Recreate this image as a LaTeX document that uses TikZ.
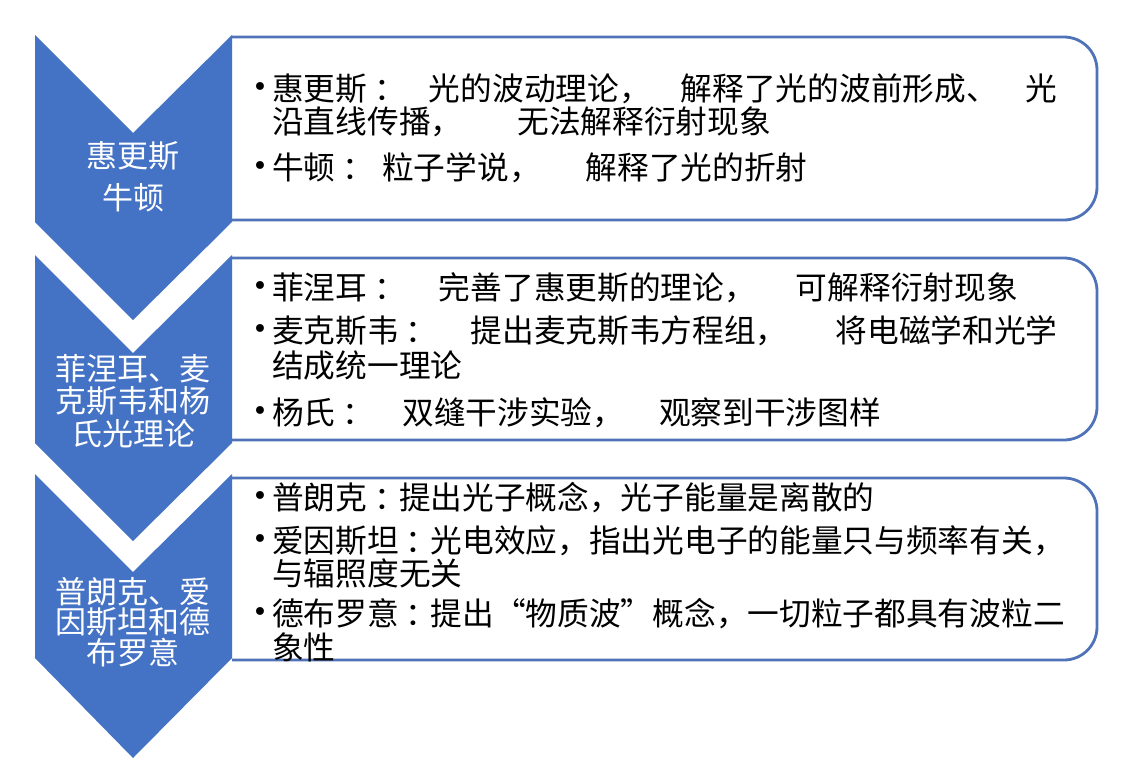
\documentclass[tikz,border=0pt]{standalone}
\usepackage{fontspec}
\newfontfamily\cjk{Noto Sans CJK SC}
\newfontfamily\dejavu{DejaVu Sans}
\definecolor{chevblue}{RGB}{68,114,196}
\definecolor{boxblue}{RGB}{79,114,184}
\newcommand{\gp}[1]{\hspace{#1pt}}
\newcommand{\lqt}{\makebox[1em][r]{“}}
\newcommand{\rqt}{\makebox[1em][l]{”}}
\newcommand{\cln}{\makebox[1em][l]{\hspace{0.22em}：}}
\tikzset{
  chev/.style={fill=chevblue, draw=none},
  infobox/.style={draw=boxblue, line width=2.8pt, rounded corners=33pt},
  line/.style={anchor=west, inner sep=0pt, text height=26.3pt, text depth=2.2pt, font=\cjk\fontsize{31.7}{32}\selectfont, text=black},
  blt/.style={inner sep=0pt, font=\dejavu\fontsize{27}{28}\selectfont, text=black},
  chevtxt/.style={inner sep=0pt, text height=25.7pt, text depth=2.2pt, font=\cjk\fontsize{31}{32}\selectfont, text=white}
}
\begin{document}
\begin{tikzpicture}[x=1pt,y=-1pt]
\useasboundingbox (0,0) rectangle (1135,776);
\fill[white] (0,0) rectangle (1135,776);
% boxes
\draw[infobox] (232,37) -- (1097,37) -- (1097,220) -- (232,220);
\draw[infobox] (232,258) -- (1097,258) -- (1097,440) -- (232,440);
\draw[infobox] (232,478) -- (1097,478) -- (1097,660) -- (232,660);
% chevrons
\fill[chev] (35,35) -- (133,133) -- (232,35) -- (232,222) -- (133,320) -- (35,222) -- cycle;
\fill[chev] (35,255) -- (133,353) -- (232,255) -- (232,443) -- (133,541) -- (35,443) -- cycle;
\fill[chev] (35,474) -- (133,572) -- (232,474) -- (232,658) -- (133,758) -- (35,658) -- cycle;
% chevron labels
\node[chevtxt] (c1a) at (133,156) {惠更斯};
\node[chevtxt] (c1b) at (133,198) {牛顿};
\node[chevtxt] (c2a) at (133,369) {菲涅耳、麦};
\node[chevtxt] (c2b) at (133,401) {克斯韦和杨};
\node[chevtxt] (c2c) at (133,434) {氏光理论};
\node[chevtxt] (c3a) at (133,592) {普朗克、爱};
\node[chevtxt] (c3b) at (133,622) {因斯坦和德};
\node[chevtxt] (c3c) at (133,653) {布罗意};
% box 1
\node[blt] (d11) at (260,90) {•};
\node[line] (t11) at (272,88) {惠更斯\cln\gp{30}光的波动理论，\gp{30}解释了光的波前形成、\gp{28}光};
\node[line] (t12) at (272,121) {沿直线传播，\gp{55}无法解释衍射现象};
\node[blt] (d12) at (260,169) {•};
\node[line] (t13) at (272,167) {牛顿\cln\gp{15}粒子学说，\gp{45}解释了光的折射};
% box 2
\node[blt] (d21) at (260,289) {•};
\node[line] (t21) at (272,287) {菲涅耳\cln\gp{40}完善了惠更斯的理论，\gp{40}可解释衍射现象};
\node[blt] (d22) at (260,332) {•};
\node[line] (t22) at (272,330) {麦克斯韦\cln\gp{40}提出麦克斯韦方程组，\gp{48}将电磁学和光学};
\node[line] (t23) at (272,365) {结成统一理论};
\node[blt] (d23) at (260,414) {•};
\node[line] (t24) at (272,412) {杨氏\cln\gp{35}双缝干涉实验，\gp{35}观察到干涉图样};
% box 3
\node[blt] (d31) at (260,499) {•};
\node[line] (t31) at (272,497) {普朗克\cln 提出光子概念，光子能量是离散的};
\node[blt] (d32) at (260,542) {•};
\node[line] (t32) at (272,540) {爱因斯坦\cln 光电效应，指出光电子的能量只与频率有关，};
\node[line] (t33) at (272,573) {与辐照度无关};
\node[blt] (d33) at (260,615) {•};
\node[line] (t34) at (272,613) {德布罗意\cln 提出\lqt 物质波\rqt 概念，一切粒子都具有波粒二};
\node[line] (t35) at (272,647) {象性};
\end{tikzpicture}
\end{document}
